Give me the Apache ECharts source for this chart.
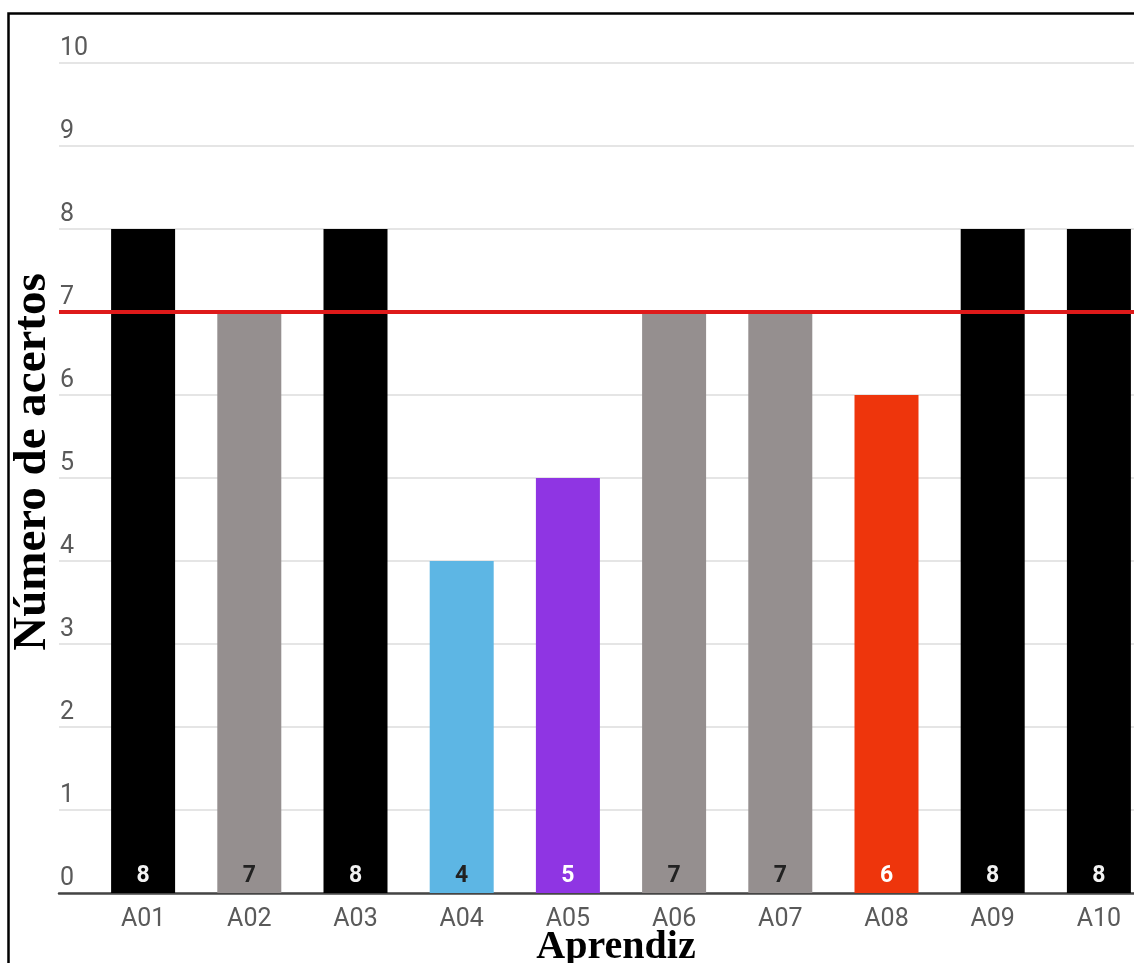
<!DOCTYPE html>
<html>
<head>
<meta charset="utf-8">
<script src="https://cdn.jsdelivr.net/npm/echarts@6/dist/echarts.min.js"></script>
<style>
  html, body { margin: 0; padding: 0; background: #fff; overflow: hidden; }
  /* the plot runs past the right edge of the picture, as in the original */
  #chart { width: 1152px; height: 963px; }
</style>
</head>
<body>
<div id="chart"></div>
<script>
// data
const aprendizes = ["A01", "A02", "A03", "A04", "A05", "A06", "A07", "A08", "A09", "A10"];
const acertos = [8, 7, 8, 4, 5, 7, 7, 6, 8, 8];
const meta = 7;
const yTicks = [0, 1, 2, 3, 4, 5, 6, 7, 8, 9, 10];

// colour of a bar depends on its score
const corPorNota = { 8: "#000000", 7: "#958f8f", 6: "#ee350c", 5: "#8f35e3", 4: "#5db6e4" };
const corRotulo = { 8: "#f2f2f2", 7: "#222222", 6: "#ffffff", 5: "#ffffff", 4: "#222222" };

const chart = echarts.init(document.getElementById("chart"));

const gridTop = 63;
const gridBottom = 70;

const option = {
    backgroundColor: "#fff",
    animation: false,
    textStyle: { fontFamily: "Roboto" },
    grid: [
        { left: 59, right: 0, top: gridTop, bottom: gridBottom },
        { left: 90, right: 0, top: gridTop, bottom: gridBottom },
    ],
    xAxis: [
        {
            gridIndex: 0,
            type: "category",
            data: aprendizes,
            axisLine: { show: true, lineStyle: { color: "#454545", width: 2.5 } },
            axisTick: { show: false },
            axisLabel: { show: false },
        },
        {
            gridIndex: 1,
            type: "category",
            data: aprendizes,
            axisLine: { show: false },
            axisTick: { show: false },
            axisLabel: {
                color: "#5a5a5a",
                fontSize: 25,
                margin: 14,
            },
        },
    ],
    yAxis: [
        {
            gridIndex: 0,
            type: "value",
            min: yTicks[0],
            max: yTicks[yTicks.length - 1],
            interval: 1,
            axisLine: { show: false },
            axisTick: { show: false },
            splitLine: { lineStyle: { color: "#dcdcdc", width: 1.5 } },
            axisLabel: {
                inside: true,
                margin: 1,
                color: "#5a5a5a",
                fontSize: 25,
                verticalAlign: "bottom",
                padding: [0, 0, 2, 0],
            },
        },
        {
            gridIndex: 1,
            type: "value",
            min: 0,
            max: 10,
            show: false,
        },
    ],
    series: [
        {
            type: "bar",
            xAxisIndex: 1,
            yAxisIndex: 1,
            barWidth: 64,
            data: acertos.map((v) => ({
                value: v,
                itemStyle: { color: corPorNota[v] },
                label: { color: corRotulo[v] },
            })),
            label: {
                show: true,
                position: "insideBottom",
                distance: 5,
                fontSize: 23,
                fontWeight: "bold",
            },
        },
        {
            // invisible carrier for the red reference line spanning the full grid
            type: "line",
            xAxisIndex: 0,
            yAxisIndex: 0,
            data: acertos,
            showSymbol: false,
            silent: true,
            z: 5,
            lineStyle: { opacity: 0 },
            markLine: {
                silent: true,
                symbol: "none",
                label: { show: false },
                lineStyle: { color: "#de1a1a", width: 4, type: "solid" },
                data: [{ yAxis: meta }],
            },
        },
    ],
    graphic: [
        {
            type: "text",
            x: 33,
            y: 462,
            rotation: Math.PI / 2,
            style: {
                text: "Número de acertos",
                font: "bold 47px 'Liberation Serif'",
                fill: "#000",
                align: "center",
                verticalAlign: "middle",
            },
        },
        {
            type: "text",
            x: 616,
            y: 948,
            style: {
                text: "Aprendiz",
                font: "bold 40px 'Liberation Serif'",
                fill: "#000",
                align: "center",
                verticalAlign: "middle",
            },
        },
        {
            type: "rect",
            shape: { x: 8.5, y: 13.5, width: 1200, height: 1000 },
            style: { fill: "none", stroke: "#000", lineWidth: 2.5 },
        },
    ],
};

chart.setOption(option);
</script>
</body>
</html>
